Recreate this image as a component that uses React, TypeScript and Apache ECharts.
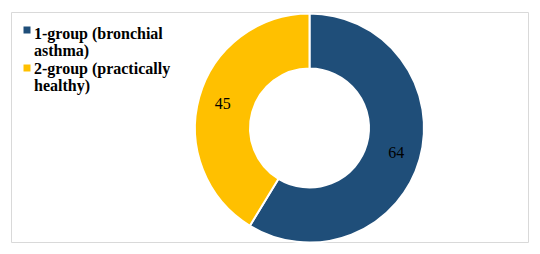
import React, { useEffect, useRef } from "react";
import * as echarts from "echarts";

const categories = ["1-group (bronchial asthma)", "2-group (practically healthy)"];
const legendLines = [
  ["1-group (bronchial", "asthma)"],
  ["2-group (practically", "healthy)"],
];
const values = [64, 45];
const colors = ["#1f4e79", "#ffc000"];

export default function App() {
  const ref = useRef<HTMLDivElement>(null);
  useEffect(() => {
    if (!ref.current) return;
    const chart = echarts.init(ref.current, undefined, { renderer: "svg" });
    const firstLineCenters = [33.8, 68.8];
    const lineStep = 17;
    const markerTops = [26.5, 64.5];
    const graphics: any[] = [
      {
        type: "rect",
        shape: { x: 11.5, y: 12.5, width: 517, height: 230 },
        style: { fill: "none", stroke: "#d9d9d9", lineWidth: 1 },
        z: 0,
      },
    ];
    legendLines.forEach((lines, i) => {
      graphics.push({
        type: "rect",
        shape: { x: 23.5, y: markerTops[i], width: 7, height: 7 },
        style: { fill: colors[i] },
        z: 10,
      });
      lines.forEach((line, j) => {
        graphics.push({
          type: "text",
          x: 34,
          y: firstLineCenters[i] + j * lineStep,
          style: {
            text: line,
            fontFamily: "Liberation Serif",
            fontWeight: "bold",
            fontSize: 16,
            fill: "#000",
            verticalAlign: "middle",
            align: "left",
          },
          z: 10,
        });
      });
    });
    chart.setOption({
      animation: false,
      backgroundColor: "#fff",
      graphic: graphics,
      series: [
        {
          type: "pie",
          center: [309.5, 128],
          radius: [59.5, 114.5],
          startAngle: 90,
          clockwise: true,
          data: categories.map((name, i) => ({
            name,
            value: values[i],
            itemStyle: { color: colors[i] },
          })),
          itemStyle: { borderColor: "#fff", borderWidth: 2 },
          label: {
            show: true,
            position: "inside",
            formatter: "{c}",
            fontFamily: "Liberation Serif",
            fontSize: 16,
            color: "#000",
          },
          labelLine: { show: false },
          emphasis: { disabled: true },
        },
      ],
    });
    return () => chart.dispose();
  }, []);
  return (
    <div
      ref={ref}
      style={{ position: "absolute", left: 0, top: 0, width: 540, height: 254 }}
    />
  );
}
